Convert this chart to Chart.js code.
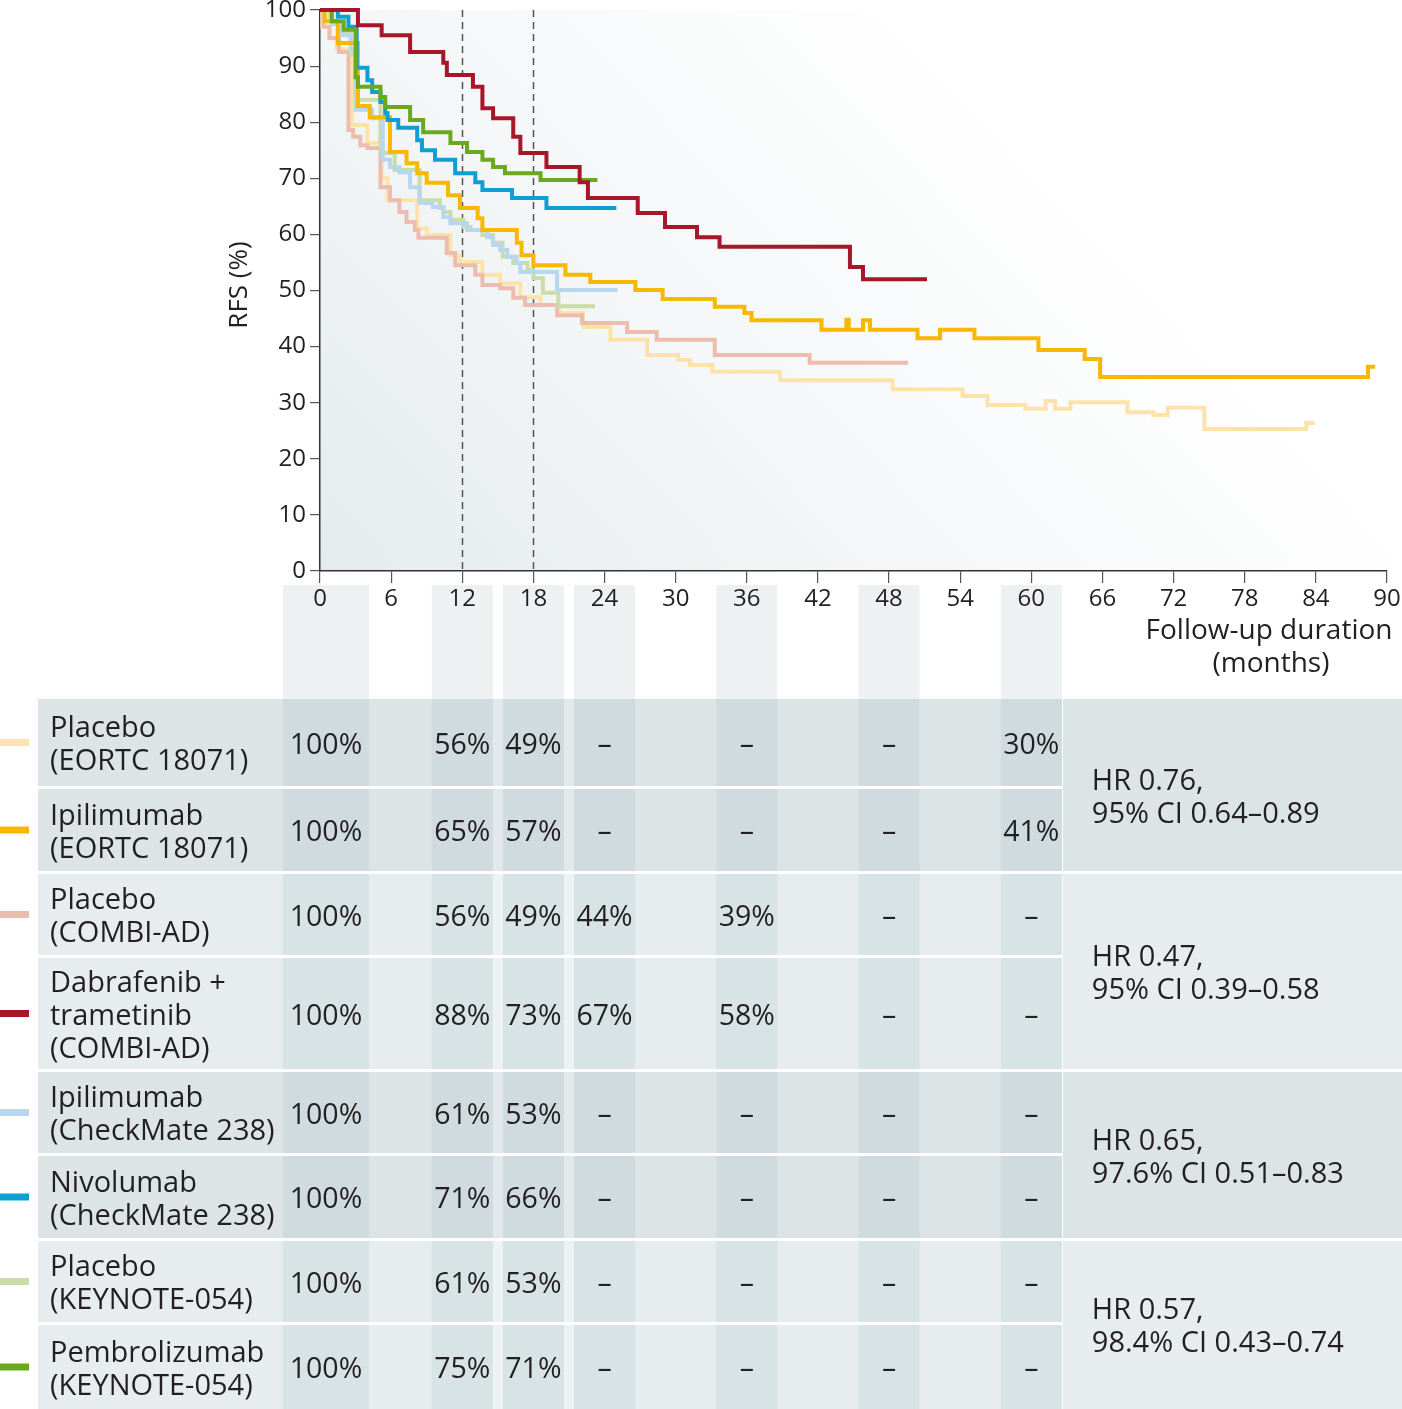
<!DOCTYPE html>
<html>
<head>
<meta charset="utf-8">
<script src="https://cdn.jsdelivr.net/npm/chart.js@4.4.0/dist/chart.umd.min.js"></script>
<style>
  html, body { margin: 0; padding: 0; background: #fff; }
  canvas { display: block; }
</style>
</head>
<body>
<canvas id="rfsChart" width="1402" height="1409"></canvas>
<script>
// Kaplan-Meier step curves (months, RFS %)
const placeboEortcMonths = [0, 0.2, 0.8, 1.4, 2.7, 4.0, 5.2, 5.7, 8.2, 9.0, 11.0, 11.8, 13.7, 15.2, 16.9, 18.6, 20.2, 22.2, 24.5, 27.6, 30.2, 31.2, 33.1, 38.8, 48.3, 54.2, 56.3, 59.5, 61.2, 62.0, 63.3, 68.1, 70.3, 71.5, 74.6, 83.2, 83.9];
const placeboEortcRfs    = [100, 97, 95, 93, 79.5, 76.3, 70, 66.1, 61.1, 59.9, 56.3, 55.1, 52.8, 51.3, 48.8, 47.4, 46.0, 43.5, 41.2, 38.5, 37.6, 36.7, 35.5, 34.0, 32.4, 31.2, 29.6, 28.9, 30.3, 28.9, 30.1, 28.3, 27.8, 29.1, 25.3, 26.4, 26.4];

const ipiEortcMonths = [0, 0.4, 1.5, 3.2, 4.2, 5.9, 7.3, 8.2, 9.0, 10.8, 11.8, 13.3, 13.7, 16.6, 17.0, 18.0, 20.7, 22.8, 26.6, 28.9, 33.3, 35.8, 36.4, 42.3, 44.4, 44.6, 45.8, 46.4, 50.4, 52.3, 55.2, 60.6, 64.5, 65.8, 88.4, 89.0];
const ipiEortcRfs    = [100, 98, 94.1, 82.9, 80.9, 74.7, 72.7, 70.9, 69.2, 67.0, 64.7, 62.9, 60.8, 58.5, 56.3, 54.5, 52.8, 51.5, 50.1, 48.5, 47.1, 46.0, 44.7, 43.0, 44.8, 43.0, 44.7, 43.0, 41.5, 43.0, 41.5, 39.4, 37.8, 34.6, 36.4, 36.4];

const placeboCombiMonths = [0, 0.3, 0.8, 1.6, 2.4, 2.8, 3.4, 4.0, 5.1, 5.9, 6.7, 7.3, 8.0, 8.3, 10.7, 11.4, 13.1, 13.7, 15.2, 16.3, 17.3, 20.0, 22.1, 25.9, 28.4, 33.3, 41.3, 49.6];
const placeboCombiRfs    = [100, 97, 95, 92.5, 78.6, 77.4, 75.9, 75.4, 68.4, 66.1, 64.0, 62.2, 60.8, 59.4, 56.7, 54.5, 52.8, 51.0, 50.4, 48.7, 47.4, 45.6, 44.2, 42.6, 41.2, 38.5, 37.1, 37.1];

const dabTramMonths = [0, 3.2, 5.2, 7.6, 10.4, 10.7, 12.9, 13.7, 14.6, 16.3, 16.9, 19.1, 21.9, 22.6, 26.8, 29.1, 31.8, 33.7, 44.7, 45.8, 51.2];
const dabTramRfs    = [100, 97.3, 95.5, 92.5, 90.6, 88.4, 86.3, 82.5, 80.7, 77.4, 74.5, 72.0, 69.3, 66.5, 63.8, 61.3, 59.5, 57.8, 54.2, 52.0, 52.0];

const ipiCheckMonths = [0, 1.0, 1.9, 2.6, 3.0, 4.4, 5.3, 5.9, 6.7, 7.6, 8.4, 9.5, 10.4, 11.0, 12.4, 14.1, 14.6, 15.2, 15.8, 16.6, 16.9, 20.0, 25.1];
const ipiCheckRfs    = [100, 97.5, 95.5, 93, 82.2, 80.7, 73.3, 72.0, 71.1, 68.4, 65.6, 64.9, 63.1, 62.0, 60.8, 59.5, 58.1, 57.2, 56.0, 54.9, 53.3, 50.1, 50.1];

const nivoMonths = [0, 1.5, 2.4, 3.1, 4.0, 4.4, 5.1, 5.5, 5.7, 6.6, 8.2, 8.6, 9.7, 11.4, 13.1, 13.7, 16.2, 19.1, 25.0];
const nivoRfs    = [100, 98.8, 97.0, 89.7, 87.5, 85.4, 83.6, 81.6, 80.4, 79.0, 76.8, 75.0, 73.3, 70.9, 69.3, 67.9, 66.5, 64.7, 64.7];

const placeboKeynoteMonths = [0, 0.8, 1.6, 2.6, 3.0, 5.1, 6.3, 8.4, 10.1, 10.4, 11.0, 12.1, 12.7, 13.7, 14.6, 15.4, 16.3, 17.5, 18.0, 18.8, 20.1, 23.2];
const placeboKeynoteRfs    = [100, 98, 96, 92, 84, 74.5, 71.5, 66.1, 64.7, 64.0, 62.6, 61.3, 60.8, 59.9, 58.5, 56.0, 54.9, 53.7, 52.2, 49.6, 47.2, 47.2];

const pembroMonths = [0, 1.0, 2.0, 3.0, 3.2, 5.1, 5.5, 7.6, 8.7, 11.0, 12.4, 13.7, 14.6, 15.6, 18.6, 23.4];
const pembroRfs    = [100, 98, 96.5, 88, 86.3, 84.5, 82.7, 80.4, 78.2, 76.3, 74.7, 73.3, 72.0, 70.9, 69.7, 69.7];

// axis ticks
const xTickMonths = [0, 6, 12, 18, 24, 30, 36, 42, 48, 54, 60, 66, 72, 78, 84, 90];
const yTickValues = [0, 10, 20, 30, 40, 50, 60, 70, 80, 90, 100];
const markerMonths = [12, 18];

// table under the chart
const rowLabels = [
  ["Placebo", "(EORTC 18071)"],
  ["Ipilimumab", "(EORTC 18071)"],
  ["Placebo", "(COMBI-AD)"],
  ["Dabrafenib +", "trametinib", "(COMBI-AD)"],
  ["Ipilimumab", "(CheckMate 238)"],
  ["Nivolumab", "(CheckMate 238)"],
  ["Placebo", "(KEYNOTE-054)"],
  ["Pembrolizumab", "(KEYNOTE-054)"]
];
const tableMonths = [0, 12, 18, 24, 36, 48, 60];
const tableValues = [
  ["100%", "56%", "49%", "–", "–", "–", "30%"],
  ["100%", "65%", "57%", "–", "–", "–", "41%"],
  ["100%", "56%", "49%", "44%", "39%", "–", "–"],
  ["100%", "88%", "73%", "67%", "58%", "–", "–"],
  ["100%", "61%", "53%", "–", "–", "–", "–"],
  ["100%", "71%", "66%", "–", "–", "–", "–"],
  ["100%", "61%", "53%", "–", "–", "–", "–"],
  ["100%", "75%", "71%", "–", "–", "–", "–"]
];
const hrLabels = [
  ["HR 0.76,", "95% CI 0.64–0.89"],
  ["HR 0.47,", "95% CI 0.39–0.58"],
  ["HR 0.65,", "97.6% CI 0.51–0.83"],
  ["HR 0.57,", "98.4% CI 0.43–0.74"]
];

const seriesColors = ["#fde3aa", "#f6b800", "#ecbdaf", "#a6172a", "#b8d6ed", "#0e9fd2", "#cadca7", "#6aa81e"];

const FONT = "'Open Sans', sans-serif";
const TEXT = "#231f20";
Chart.defaults.font.family = FONT;

function pts(months, rfs) {
  return months.map((m, i) => ({ x: m, y: rfs[i] }));
}

function line(months, rfs, color, order) {
  return {
    data: pts(months, rfs),
    borderColor: color,
    borderWidth: 4,
    stepped: 'before',
    pointRadius: 0,
    fill: false,
    clip: false,
    order: order
  };
}

// table geometry
const rowBounds = [[699, 786], [789, 871], [874, 955], [958, 1069], [1072, 1153], [1156, 1238], [1241, 1322], [1325, 1409]];
const hrShift = [13, 3, 3, 2];
const groupColors = [
  { row: "#dce4e6", band: "#cfdbde", strip: "#e3e9eb" },
  { row: "#e7edef", band: "#d8e3e5", strip: "#edf2f3" }
];

function bandRange(x, m) {
  const c = x.getPixelForValue(m);
  if (m === 0) return [c - 37, c + 49];
  return [c - 30.5, c + 30.5];
}

const tablePlugin = {
  id: 'rfsTable',
  beforeDraw(chart) {
    const { ctx, chartArea: a, scales: { x } } = chart;
    ctx.save();
    ctx.fillStyle = "#fff";
    ctx.fillRect(0, 0, chart.width, chart.height);

    // soft gradient behind the curves
    const g = ctx.createLinearGradient(a.left, a.bottom, a.left + (a.right - a.left) * 0.55, a.top);
    g.addColorStop(0, "#e5ebed");
    g.addColorStop(0.5, "#f4f6f7");
    g.addColorStop(1, "#ffffff");
    ctx.fillStyle = g;
    ctx.fillRect(a.left, a.top, a.right - a.left, a.bottom - a.top);

    // column bands under the axis
    ctx.fillStyle = "#edf1f2";
    tableMonths.forEach(m => {
      const [l, r] = bandRange(x, m);
      ctx.fillRect(l, 585, r - l, 699 - 585);
    });

    // rows
    const colEnd = bandRange(x, 60)[1];
    rowBounds.forEach(([top, bot], r) => {
      const c = groupColors[Math.floor(r / 2) % 2];
      ctx.fillStyle = c.row;
      ctx.fillRect(38, top, colEnd - 38, bot - top);
      ctx.fillStyle = c.strip;
      for (let k = 1; k < tableMonths.length - 1; k++) {
        const r0 = bandRange(x, tableMonths[k])[1];
        const l1 = bandRange(x, tableMonths[k + 1])[0];
        if (l1 - r0 < 15) ctx.fillRect(r0, top, l1 - r0, bot - top);
      }
      ctx.fillStyle = c.band;
      tableMonths.forEach(m => {
        const [l, rr] = bandRange(x, m);
        ctx.fillRect(l, top, rr - l, bot - top);
      });
    });
    // HR blocks
    for (let gi = 0; gi < 4; gi++) {
      const top = rowBounds[gi * 2][0];
      const bot = rowBounds[gi * 2 + 1][1];
      ctx.fillStyle = groupColors[gi % 2].row;
      ctx.fillRect(colEnd + 1, top, chart.width - colEnd - 1, bot - top);
    }
    ctx.restore();
  },
  beforeDatasetsDraw(chart) {
    const { ctx, chartArea: a, scales: { x } } = chart;
    ctx.save();
    ctx.strokeStyle = "#555";
    ctx.lineWidth = 1.5;
    ctx.setLineDash([7, 5]);
    markerMonths.forEach(m => {
      const px = Math.round(x.getPixelForValue(m)) + 0.5;
      ctx.beginPath();
      ctx.moveTo(px, a.top);
      ctx.lineTo(px, a.bottom);
      ctx.stroke();
    });
    ctx.restore();
  },
  afterDraw(chart) {
    const { ctx, scales: { x } } = chart;
    ctx.save();
    ctx.fillStyle = TEXT;

    // axis titles
    ctx.font = "26px " + FONT;
    ctx.textAlign = "center";
    ctx.textBaseline = "middle";
    ctx.save();
    ctx.translate(240, 285);
    ctx.rotate(-Math.PI / 2);
    ctx.fillText("RFS (%)", 0, 0);
    ctx.restore();
    ctx.font = "28px " + FONT;
    ctx.fillText("Follow-up duration", 1269, 631);
    ctx.fillText("(months)", 1271, 664);

    // row labels, swatches and values
    rowBounds.forEach(([top, bot], r) => {
      const cy = (top + bot) / 2;
      ctx.fillStyle = seriesColors[r];
      ctx.fillRect(0, cy - 3.5, 29, 7);
      ctx.fillStyle = TEXT;
      ctx.font = "29px " + FONT;
      ctx.textAlign = "left";
      const lines = rowLabels[r];
      lines.forEach((t, i) => {
        ctx.fillText(t, 50, cy + 3 + (i - (lines.length - 1) / 2) * 33);
      });
      ctx.font = "28.5px " + FONT;
      ctx.textAlign = "center";
      tableValues[r].forEach((v, k) => {
        const [l, rr] = bandRange(x, tableMonths[k]);
        ctx.fillText(v, (l + rr) / 2, cy + 3);
      });
    });

    // hazard ratios
    ctx.font = "29px " + FONT;
    ctx.textAlign = "left";
    const colEnd = bandRange(x, 60)[1];
    hrLabels.forEach((lines, gi) => {
      const cy = (rowBounds[gi * 2][0] + rowBounds[gi * 2 + 1][1]) / 2 + hrShift[gi];
      lines.forEach((t, i) => {
        ctx.fillText(t, colEnd + 30, cy + (i - 0.5) * 33);
      });
    });
    ctx.restore();
  }
};

new Chart(document.getElementById("rfsChart"), {
  type: "line",
  data: {
    datasets: [
      line(dabTramMonths, dabTramRfs, seriesColors[3], 0),
      line(pembroMonths, pembroRfs, seriesColors[7], 0),
      line(nivoMonths, nivoRfs, seriesColors[5], 0),
      line(ipiEortcMonths, ipiEortcRfs, seriesColors[1], 0),
      line(ipiCheckMonths, ipiCheckRfs, seriesColors[4], 1),
      line(placeboKeynoteMonths, placeboKeynoteRfs, seriesColors[6], 1),
      line(placeboCombiMonths, placeboCombiRfs, seriesColors[2], 1),
      line(placeboEortcMonths, placeboEortcRfs, seriesColors[0], 1)
    ]
  },
  options: {
    responsive: false,
    animation: false,
    events: [],
    layout: { padding: { top: 10, right: 15, left: 0, bottom: 0 } },
    plugins: { legend: { display: false }, tooltip: { enabled: false } },
    scales: {
      x: {
        type: "linear",
        min: 0,
        max: 90,
        afterBuildTicks(scale) { scale.ticks = xTickMonths.map(v => ({ value: v })); },
        afterFit(scale) {
          scale.height = 838;
          scale.paddingLeft = 0;
          scale.paddingRight = 0;
        },
        ticks: { color: TEXT, font: { size: 24, lineHeight: 1 }, padding: 4, maxRotation: 0, autoSkip: false },
        grid: { drawOnChartArea: false, drawTicks: true, tickLength: 12, color: "#555", lineWidth: 1.2 },
        border: { display: true, color: "#333", width: 1.5 }
      },
      y: {
        min: 0,
        max: 100,
        afterBuildTicks(scale) { scale.ticks = yTickValues.map(v => ({ value: v })); },
        afterFit(scale) {
          scale.width = 320;
          scale.paddingTop = 0;
          scale.paddingBottom = 0;
        },
        ticks: { color: TEXT, font: { size: 24, lineHeight: 0.8 }, padding: 4 },
        grid: { drawOnChartArea: false, drawTicks: true, tickLength: 10, color: "#555", lineWidth: 1.2 },
        border: { display: true, color: "#333", width: 1.5 }
      }
    }
  },
  plugins: [tablePlugin]
});
</script>
</body>
</html>
